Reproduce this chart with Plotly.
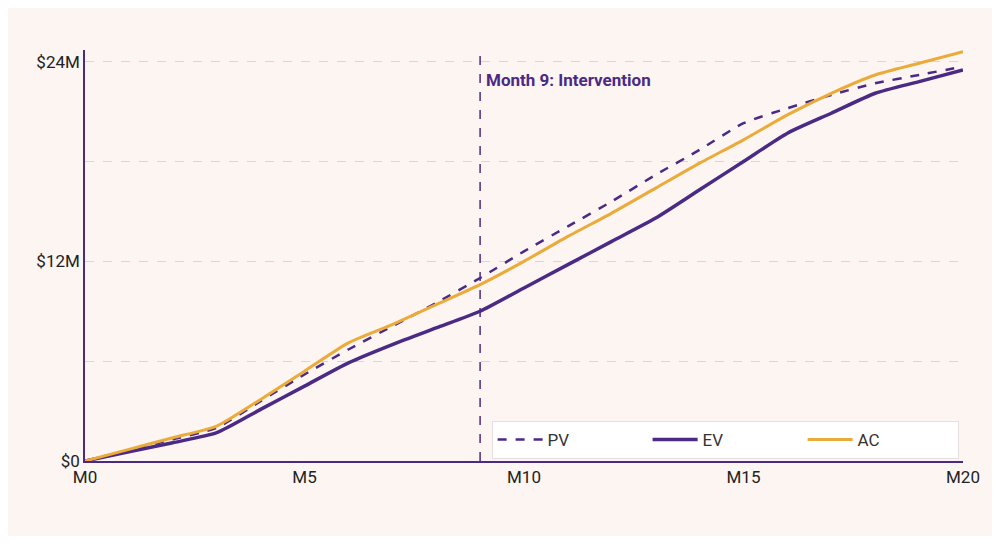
import plotly.graph_objects as go

months = list(range(21))
pv = [0, 0.65, 1.3, 2.0, 3.6, 5.2, 6.7, 8.1, 9.5, 11.0, 12.6, 14.1, 15.6, 17.2, 18.7, 20.3, 21.2, 22.0, 22.7, 23.2, 23.7]
ev = [0, 0.55, 1.1, 1.7, 3.1, 4.5, 5.9, 7.0, 8.0, 9.0, 10.4, 11.8, 13.2, 14.6, 16.3, 18.0, 19.7, 20.9, 22.1, 22.8, 23.5]
ac = [0, 0.7, 1.4, 2.1, 3.7, 5.4, 7.1, 8.2, 9.4, 10.6, 12.0, 13.5, 14.9, 16.4, 17.9, 19.3, 20.8, 22.1, 23.2, 23.9, 24.6]
x_ticks = [0, 5, 10, 15, 20]
x_labels = ["M0", "M5", "M10", "M15", "M20"]
y_ticks = [0, 12, 24]
y_labels = ["$0", "$12M", "$24M"]
intervention = 9

purple = "#4B2A86"
orange = "#EBAB3A"

fig = go.Figure()
fig.add_trace(go.Scatter(x=months, y=pv, mode="lines", name="PV",
                         line=dict(color=purple, width=2.5, dash="dash", shape="spline", smoothing=0.6)))
fig.add_trace(go.Scatter(x=months, y=ev, mode="lines", name="EV",
                         line=dict(color=purple, width=3.5, shape="spline", smoothing=0.6)))
fig.add_trace(go.Scatter(x=months, y=ac, mode="lines", name="AC",
                         line=dict(color=orange, width=3, shape="spline", smoothing=0.6)))

fig.add_vline(x=intervention, line=dict(color=purple, width=1.5, dash="dash"))
fig.add_annotation(x=intervention, y=24, xref="x", yref="y", text="<b>Month 9: Intervention</b>",
                   showarrow=False, xanchor="left", yanchor="top", xshift=4, yshift=-6,
                   font=dict(color=purple, size=17))

fig.update_layout(
    width=984, height=528,
    paper_bgcolor="#FCF5F2", plot_bgcolor="#FCF5F2",
    margin=dict(l=77, r=27, t=42, b=75),
    font=dict(family="Roboto", size=17, color="#222"),
    legend=dict(orientation="h", x=0.995, y=0.005, xanchor="right", yanchor="bottom",
                bgcolor="white", bordercolor="#E5DDE0", borderwidth=1,
                font=dict(size=17, color="#333"), itemwidth=45, entrywidth=95),
)
fig.update_xaxes(range=[0, 20], tickvals=x_ticks, ticktext=x_labels, showgrid=False,
                 showline=True, linecolor=purple, linewidth=1.5, zeroline=False, ticks="")
fig.update_yaxes(range=[0, 24.7], tickvals=y_ticks, ticktext=y_labels, showgrid=True,
                 gridcolor="#E0D2D8", griddash="dash", gridwidth=1,
                 minor=dict(dtick=6, showgrid=True, gridcolor="#E0D2D8", griddash="dash"),
                 showline=True, linecolor=purple, linewidth=1.5, zeroline=False, ticks="")

fig.write_html("out.html")
